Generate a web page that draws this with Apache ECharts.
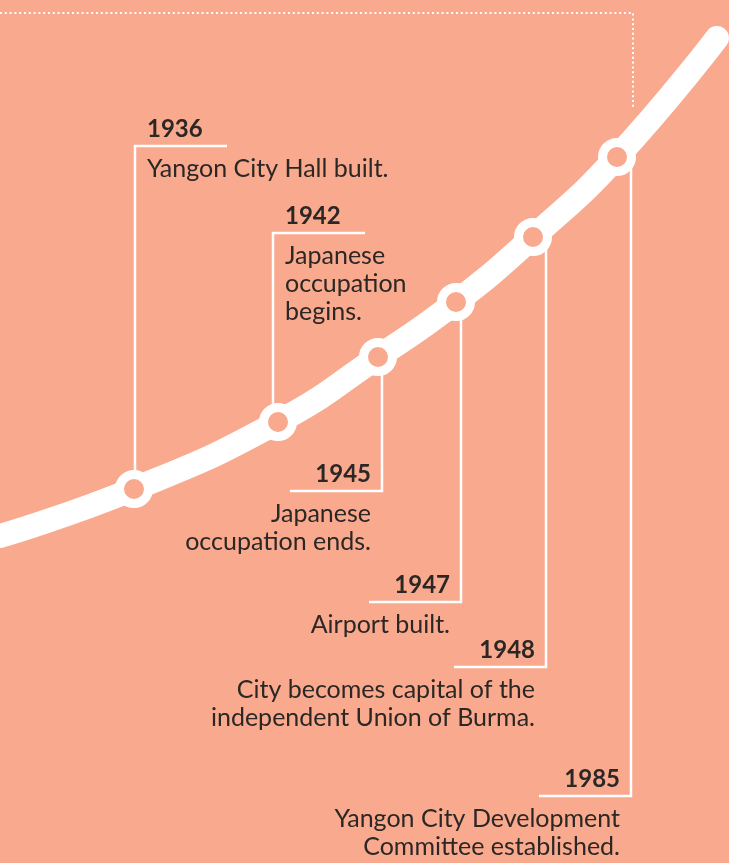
<!DOCTYPE html>
<html>
<head>
<meta charset="utf-8">
<title>Yangon timeline</title>
<script src="https://cdn.jsdelivr.net/npm/echarts@6/dist/echarts.min.js"></script>
<style>
  * { margin: 0; padding: 0; }
  body { background: #f9a98e; }
</style>
</head>
<body>
<!-- chart container -->
<div id="main" style="width: 729px; height: 863px"></div>
<script>
// events on the timeline
var years = ["1936", "1942", "1945", "1947", "1948", "1985"];
var notes = [
  ["Yangon City Hall built."],
  ["Japanese", "occupation", "begins."],
  ["Japanese", "occupation ends."],
  ["Airport built."],
  ["City becomes capital of the", "independent Union of Burma."],
  ["Yangon City Development", "Committee established."]
];
// where each event sits on the growth curve
var eventPos = [134, 278, 378, 456, 533, 617];
var eventLevel = [374, 441, 506, 561, 626, 706];
// the curve itself
var curvePos = [0, 134, 278, 378, 456, 533, 617, 717];
var curveLevel = [327, 374, 441, 506, 561, 626, 706, 825];
// dotted frame at the top
var framePos = [0, 633, 633];
var frameLevel = [850, 850, 756];

// callout layout: level of the elbow, sideways shift of the stem, which side the text goes
var calloutLevel = [717, 630, 372, 261, 196, 67];
var stemShift = [1, -5, 4, 5, 13, 14];
var textSide = ["right", "right", "left", "left", "left", "left"];

var BG = "#f9a98e";
var INK = "#2b2725";
var FONT = "Lato";

var chart = echarts.init(document.getElementById("main"));

function zip(xs, ys) {
  var out = [];
  for (var i = 0; i < xs.length; i++) out.push([xs[i], ys[i]]);
  return out;
}

var calloutData = [];
for (var i = 0; i < years.length; i++) {
  calloutData.push([eventPos[i], eventLevel[i], calloutLevel[i], i]);
}

function renderCallout(params, api) {
  var i = api.value(3);
  var c = api.coord([api.value(0), api.value(1)]);
  var corner = api.coord([api.value(0), api.value(2)]);
  var sx = c[0] + stemShift[i];
  var cy = corner[1];
  var right = textSide[i] === "right";
  var barEnd = right ? sx + 92 : sx - 92;
  var tx = right ? sx + 12 : sx - 11;
  var align = right ? "left" : "right";
  return {
    type: "group",
    children: [
      {
        type: "polyline",
        shape: { points: [[barEnd, cy], [sx, cy], [sx, c[1]]] },
        style: { stroke: "#fff", lineWidth: 2.5, fill: null, lineJoin: "miter" }
      },
      {
        type: "text",
        style: {
          text: years[i],
          x: tx, y: cy - 17,
          align: align, verticalAlign: "middle",
          font: "bold 24px " + FONT,
          fill: INK
        }
      },
      {
        type: "text",
        style: {
          text: notes[i].join("\n"),
          x: tx, y: cy + 9,
          align: align, verticalAlign: "top",
          lineHeight: 28,
          font: "25px " + FONT,
          fill: INK
        }
      }
    ]
  };
}

chart.setOption({
  animation: false,
  grid: { left: 0, right: 0, top: 0, bottom: 0 },
  xAxis: { type: "value", min: 0, max: 729, show: false },
  yAxis: { type: "value", min: 0, max: 863, show: false },
  series: [
    {
      // dotted frame
      type: "line",
      data: zip(framePos, frameLevel),
      symbol: "none",
      silent: true,
      z: 1,
      lineStyle: { color: "#fff", width: 2, type: [2, 2.8] }
    },
    {
      // callout lines and texts
      type: "custom",
      data: calloutData,
      renderItem: renderCallout,
      silent: true,
      z: 2
    },
    {
      // growth curve
      type: "line",
      data: zip(curvePos, curveLevel),
      smooth: true,
      symbol: "none",
      silent: true,
      z: 3,
      lineStyle: { color: "#fff", width: 24, cap: "round" }
    },
    {
      // event markers
      type: "scatter",
      data: zip(eventPos, eventLevel),
      symbol: "circle",
      symbolSize: 29,
      silent: true,
      z: 4,
      itemStyle: { color: BG, borderColor: "#fff", borderWidth: 9, opacity: 1 }
    }
  ]
});
</script>
</body>
</html>
